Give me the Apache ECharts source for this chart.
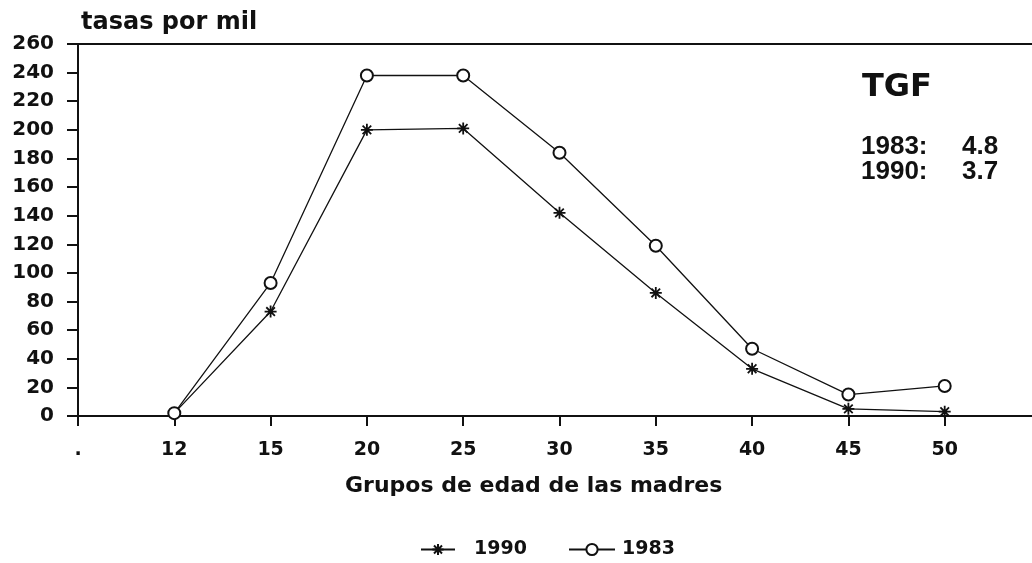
<!DOCTYPE html>
<html><head><meta charset="utf-8">
<script src="https://cdn.jsdelivr.net/npm/echarts@6/dist/echarts.min.js"></script>
<style>html,body{margin:0;padding:0;background:#fff}#c{width:1032px;height:563px}</style>
</head><body><div id="c"></div>
<script>
const categories = ['.', '12', '15', '20', '25', '30', '35', '40', '45', '50', ''];
const rates1990 = [null, 2, 73, 200, 201, 142, 86, 33, 5, 3, null];
const rates1983 = [null, 2, 93, 238, 238, 184, 119, 47, 15, 21, null];
const yTicks = {min: 0, max: 260, interval: 20};

const font = '"DejaVu Sans", sans-serif';
const font2 = '"Liberation Sans", Arial, sans-serif';
const ink = '#111';
const star = 'path://M0,-6L0,6M-6,0L6,0M-4.3,-4.3L4.3,4.3M-4.3,4.3L4.3,-4.3';
const chart = echarts.init(document.getElementById('c'));
chart.setOption({
  backgroundColor: '#fff',
  animation: false,
  title: {text: 'tasas por mil', left: 76, top: 6,
    textStyle: {fontFamily: font, fontWeight: 'bold', fontSize: 24, color: ink}},
  grid: {left: 78, width: 963, top: 44, height: 372, outerBoundsMode: 'none', containLabel: false},
  legend: [
    {data: ['1990'], left: 415, top: 535, itemWidth: 34, itemHeight: 14,
      textStyle: {fontFamily: font, fontWeight: 'bold', fontSize: 19, color: ink, padding: [0, 0, 0, 14]}},
    {data: ['1983'], left: 563, top: 535, itemWidth: 46, itemHeight: 14,
      textStyle: {fontFamily: font, fontWeight: 'bold', fontSize: 19, color: ink, padding: [0, 0, 0, 2]}}
  ],
  xAxis: [{
    type: 'category', data: categories, boundaryGap: false,
    axisLine: {lineStyle: {color: ink, width: 2}},
    axisTick: {show: true, length: 10, lineStyle: {color: ink, width: 2},
      interval: function(i){ return i < 10; }},
    axisLabel: {margin: 25, fontFamily: font, fontWeight: 'bold', fontSize: 19, color: ink},
    splitLine: {show: false}
  }, {
    type: 'category', data: categories, position: 'top', boundaryGap: false,
    axisLine: {show: true, lineStyle: {color: ink, width: 2}},
    axisTick: {show: false}, axisLabel: {show: false}
  }],
  yAxis: {
    type: 'value', min: yTicks.min, max: yTicks.max, interval: yTicks.interval,
    axisLine: {show: true, lineStyle: {color: ink, width: 2}},
    axisTick: {show: true, length: 11, lineStyle: {color: ink, width: 2}},
    axisLabel: {margin: 24, fontFamily: font, fontWeight: 'bold', fontSize: 20, color: ink},
    splitLine: {show: false}
  },
  graphic: [
    {type: 'text', left: 345, top: 475, style: {text: 'Grupos de edad de las madres',
      font: 'bold 22px ' + font, fill: ink}},
    {type: 'text', left: 862, top: 72, style: {text: 'TGF', font: 'bold 32px ' + font, fill: ink}},
    {type: 'text', left: 861, top: 134, style: {text: '1983:', font: 'bold 26px ' + font2, fill: ink}},
    {type: 'text', left: 962, top: 134, style: {text: '4.8', font: 'bold 26px ' + font2, fill: ink}},
    {type: 'text', left: 861, top: 159, style: {text: '1990:', font: 'bold 26px ' + font2, fill: ink}},
    {type: 'text', left: 962, top: 159, style: {text: '3.7', font: 'bold 26px ' + font2, fill: ink}}
  ],
  series: [
    {name: '1990', type: 'line', data: rates1990, symbol: star, symbolSize: 12,
      lineStyle: {color: ink, width: 1.3},
      itemStyle: {color: 'none', borderColor: ink, borderWidth: 1.8}},
    {name: '1983', type: 'line', data: rates1983, symbol: 'emptyCircle', symbolSize: 12,
      lineStyle: {color: ink, width: 1.3},
      itemStyle: {color: ink, borderColor: ink, borderWidth: 1.3}}
  ]
});
</script></body></html>
